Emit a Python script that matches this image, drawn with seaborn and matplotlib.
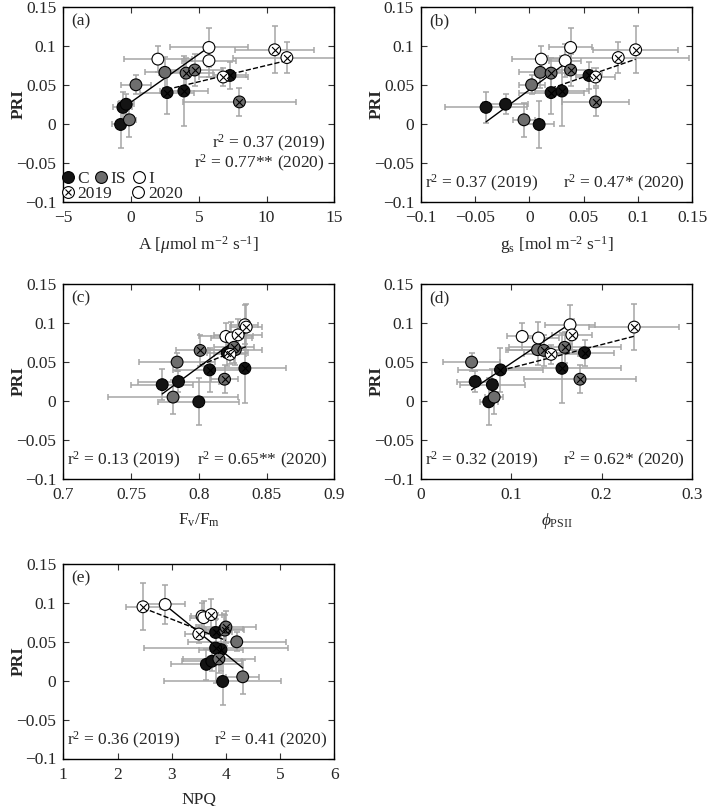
import numpy as np
import pandas as pd
import matplotlib
matplotlib.use("Agg")
import matplotlib.pyplot as plt
import matplotlib.ticker as mticker
from matplotlib.lines import Line2D
import seaborn as sns

# point order: 2020 C x3, 2020 IS x3, 2020 I x3, 2019 C x3, 2019 IS x3, 2019 I x3
years = ["2020"] * 9 + ["2019"] * 9
treatments = (["C"] * 3 + ["IS"] * 3 + ["I"] * 3) * 2

pri = [-0.001, 0.021, 0.025, 0.005, 0.050, 0.066, 0.083, 0.098, 0.081,
       0.040, 0.042, 0.062, 0.065, 0.069, 0.028, 0.060, 0.095, 0.085]
pri_err = [0.030, 0.020, 0.013, 0.022, 0.012, 0.020, 0.017, 0.025, 0.021,
           0.028, 0.045, 0.017, 0.020, 0.020, 0.018, 0.012, 0.030, 0.020]

a_x = [-0.77, -0.6, -0.36, -0.12, 0.36, 2.5, 1.98, 5.75, 5.75,
       2.66, 3.9, 7.3, 4.06, 4.7, 8.0, 6.8, 10.6, 11.5]
a_err = [0.6, 0.7, 0.6, 0.5, 1.1, 1.5, 2.5, 2.85, 2.0,
         2.0, 1.8, 1.2, 2.0, 2.0, 4.2, 1.8, 2.9, 4.0]

gs_x = [0.009, -0.040, -0.022, -0.005, 0.002, 0.010, 0.011, 0.038, 0.033,
        0.020, 0.030, 0.055, 0.020, 0.038, 0.061, 0.061, 0.098, 0.082]
gs_err = [0.014, 0.038, 0.021, 0.010, 0.012, 0.020, 0.027, 0.020, 0.015,
          0.030, 0.025, 0.012, 0.015, 0.020, 0.031, 0.018, 0.039, 0.065]

fvfm_x = [0.800, 0.773, 0.785, 0.781, 0.784, 0.827, 0.820, 0.834, 0.824,
          0.808, 0.834, 0.821, 0.801, 0.826, 0.819, 0.823, 0.835, 0.829]
fvfm_err = [0.030, 0.023, 0.030, 0.048, 0.028, 0.020, 0.020, 0.010, 0.015,
            0.027, 0.030, 0.015, 0.018, 0.015, 0.010, 0.012, 0.012, 0.018]

psii_x = [0.075, 0.079, 0.060, 0.081, 0.056, 0.129, 0.112, 0.165, 0.130,
          0.088, 0.156, 0.181, 0.136, 0.159, 0.176, 0.144, 0.236, 0.167]
psii_err = [0.010, 0.036, 0.020, 0.010, 0.032, 0.035, 0.017, 0.028, 0.023,
            0.047, 0.065, 0.033, 0.040, 0.062, 0.062, 0.030, 0.050, 0.022]

npq_x = [3.94, 3.64, 3.74, 4.31, 4.20, 3.97, 3.56, 2.88, 3.59,
         3.91, 3.81, 3.81, 3.98, 4.00, 3.87, 3.50, 2.47, 3.73]
npq_err = [1.08, 0.66, 0.55, 0.30, 0.90, 0.35, 0.20, 0.37, 0.25,
           0.40, 1.33, 0.30, 0.35, 0.55, 0.67, 0.25, 0.32, 0.20]

r2_labels = {
    "a": ["0.37 (2019)", "0.77** (2020)"],
    "b": ["0.37 (2019)", "0.47* (2020)"],
    "c": ["0.13 (2019)", "0.65** (2020)"],
    "d": ["0.32 (2019)", "0.62* (2020)"],
    "e": ["0.36 (2019)", "0.41 (2020)"],
}

palette = {"C": "#141414", "IS": "#6e6e6e", "I": "white"}


def fmt(v, pos):
    s = f"{round(v, 6) + 0.0:g}"
    return s.replace("-", "\u2212")


def main():
    sns.set_theme(style="ticks")
    plt.rcParams["font.family"] = ["Liberation Serif", "DejaVu Serif"]
    plt.rcParams["mathtext.fontset"] = "custom"
    plt.rcParams["mathtext.rm"] = "Liberation Serif"
    plt.rcParams["mathtext.it"] = "Liberation Serif:italic"
    plt.rcParams["xtick.direction"] = "in"
    plt.rcParams["ytick.direction"] = "in"
    plt.rcParams["xtick.top"] = True
    plt.rcParams["ytick.right"] = True

    df = pd.DataFrame({"year": years, "treatment": treatments,
                       "PRI": pri, "PRI_err": pri_err})

    panels = [
        ("a", a_x, a_err, (-5, 15), np.arange(-5, 16, 5),
         r"A [$\mu$mol m$^{-2}$ s$^{-1}$]", (63.3, 7)),
        ("b", gs_x, gs_err, (-0.1, 0.15), np.arange(-0.1, 0.16, 0.05),
         r"g$_\mathrm{s}$ [mol m$^{-2}$ s$^{-1}$]", (421.0, 7)),
        ("c", fvfm_x, fvfm_err, (0.7, 0.9), np.arange(0.7, 0.91, 0.05),
         r"F$_\mathrm{v}$/F$_\mathrm{m}$", (63.3, 284.3)),
        ("d", psii_x, psii_err, (0, 0.3), np.arange(0, 0.31, 0.1),
         r"$\phi_\mathrm{PSII}$", (421.0, 284.3)),
        ("e", npq_x, npq_err, (1, 6), np.arange(1, 7, 1),
         "NPQ", (63.3, 564)),
    ]

    W, H = 709, 806
    fig = plt.figure(figsize=(W / 100, H / 100), dpi=100)
    fs = 12.5
    aw = 271

    for tag, xs, xerr, xlim, xticks, xlabel, (left, top) in panels:
        ax = fig.add_axes([left / W, 1 - (top + 194.5) / H, aw / W, 194.5 / H])
        d = df.copy()
        d["x"] = xs
        d["x_err"] = xerr

        ax.errorbar(d["x"], d["PRI"], xerr=d["x_err"], yerr=d["PRI_err"],
                    fmt="none", ecolor="#a6a6a6", elinewidth=1.1,
                    capsize=2.5, capthick=1.1, zorder=1)

        for yr, ls in [("2020", "-"), ("2019", "--")]:
            sub = d[d["year"] == yr]
            sns.regplot(data=sub, x="x", y="PRI", ax=ax, scatter=False, ci=None,
                        color="black", line_kws={"lw": 1.0, "ls": ls, "zorder": 2})

        sns.scatterplot(data=d, x="x", y="PRI", hue="treatment", palette=palette,
                        s=72, edgecolor="black", linewidth=0.8, legend=False,
                        ax=ax, zorder=3)
        d19 = d[d["year"] == "2019"]
        ax.scatter(d19["x"], d19["PRI"], marker="x", s=24, c="black",
                   linewidths=0.8, zorder=4)

        ax.set_xlim(*xlim)
        ax.set_ylim(-0.1, 0.15)
        ax.set_xticks(xticks)
        ax.set_yticks(np.arange(-0.1, 0.16, 0.05))
        ax.xaxis.set_major_formatter(mticker.FuncFormatter(fmt))
        ax.yaxis.set_major_formatter(mticker.FuncFormatter(fmt))
        ax.tick_params(labelsize=fs, length=4, width=0.8, color="#333333")
        ax.tick_params(axis="x", pad=6)
        ax.tick_params(axis="y", pad=5)
        for sp in ax.spines.values():
            sp.set_linewidth(1.0)
            sp.set_color("black")
        ax.set_xlabel(xlabel, fontsize=fs, labelpad=6)
        ax.set_ylabel("PRI", fontsize=fs, fontweight="bold")
        ax.yaxis.set_label_coords(-0.135, 0.5)
        ax.text(0.03, 0.925, f"({tag})", transform=ax.transAxes,
                fontsize=fs, ha="left", va="center")

        t19, t20 = r2_labels[tag]
        if tag == "a":
            ax.text(0.965, 0.30, r"r$^2$ = " + t19, transform=ax.transAxes,
                    fontsize=fs, ha="right", va="center")
            ax.text(0.965, 0.195, r"r$^2$ = " + t20, transform=ax.transAxes,
                    fontsize=fs, ha="right", va="center")
            h = [Line2D([], [], marker="o", ls="", mfc=palette[k], mec="black",
                        mew=0.8, ms=8.5) for k in ["C", "IS", "I"]]
            leg1 = ax.legend(h, ["C", "IS", "I"], ncol=3, loc="lower left",
                             bbox_to_anchor=(-0.015, 0.075), frameon=False,
                             handletextpad=0.05, columnspacing=0.2,
                             handlelength=1.0, borderaxespad=0, borderpad=0,
                             fontsize=fs)
            ax.add_artist(leg1)
            h19 = (Line2D([], [], marker="o", ls="", mfc="white", mec="black",
                          mew=0.8, ms=8.5),
                   Line2D([], [], marker="x", ls="", mec="black", mew=0.8, ms=4.8))
            h20 = Line2D([], [], marker="o", ls="", mfc="white", mec="black",
                         mew=0.8, ms=8.5)
            ax.legend([h19, h20], ["2019", "2020"], ncol=2, loc="lower left",
                      bbox_to_anchor=(-0.015, -0.005), frameon=False,
                      handletextpad=0.05, columnspacing=1.0, handlelength=1.0,
                      borderaxespad=0, borderpad=0, fontsize=fs)
        else:
            ax.text(0.015, 0.095, r"r$^2$ = " + t19, transform=ax.transAxes,
                    fontsize=fs, ha="left", va="center")
            ax.text(0.975, 0.095, r"r$^2$ = " + t20, transform=ax.transAxes,
                    fontsize=fs, ha="right", va="center")

    fig.savefig("out.png", dpi=100)


if __name__ == "__main__":
    main()
